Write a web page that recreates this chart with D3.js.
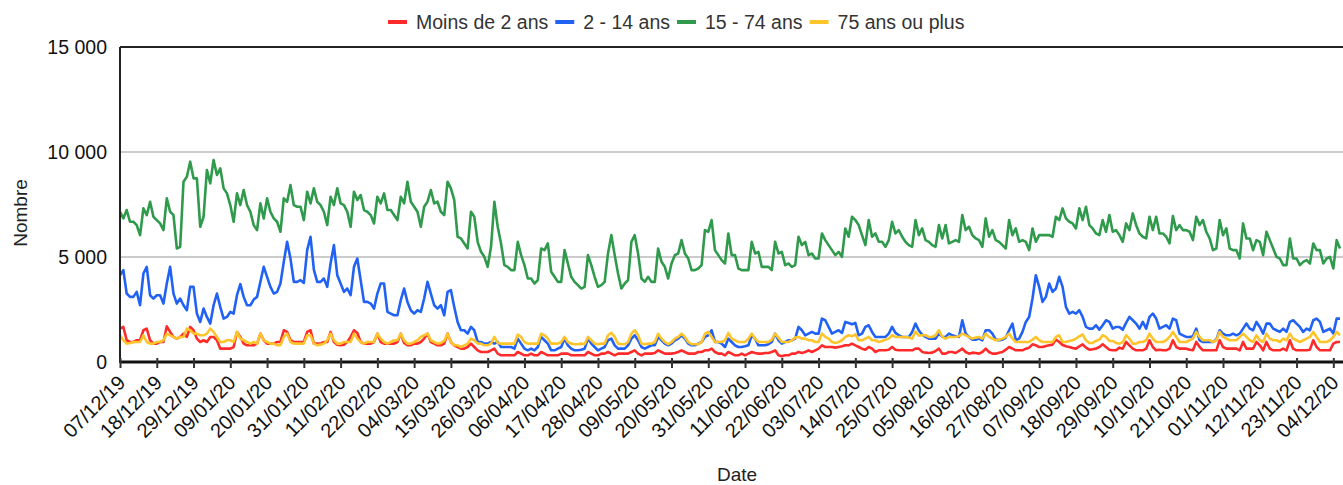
<!DOCTYPE html>
<html>
<head>
<meta charset="utf-8">
<script src="https://cdn.jsdelivr.net/npm/d3@7/dist/d3.min.js"></script>
<style>
  body { margin: 0; background: #fff; }
  svg { display: block; font-family: Arial, "Liberation Sans", sans-serif; }
</style>
</head>
<body>
<svg id="chart" width="1343" height="485"></svg>
<script>
// first day of the series, one value per day after that
const startDate = new Date(2019, 11, 7);

const seriesNames = ["Moins de 2 ans", "2 - 14 ans", "15 - 74 ans", "75 ans ou plus"];
const seriesColors = ["#ff2b2b", "#2162f5", "#2f9a4c", "#fdc42c"];

const moins2 = [
  1590,1670,1034,954,954,1034,1034,1511,1590,1034,
  875,875,954,954,1700,1431,1193,1113,1193,1352,
  1193,1670,1511,1113,954,1034,954,1193,1193,1034,
  636,636,636,636,716,1431,1193,875,795,795,
  795,875,1352,1034,875,875,875,954,954,1511,
  1431,1034,954,954,954,954,1431,1511,875,875,
  875,954,954,1431,954,827,795,827,954,1193,
  1511,1384,954,875,875,875,954,1352,954,875,
  875,875,875,954,1352,906,795,795,875,875,
  954,1113,1352,954,875,795,795,875,1352,954,
  795,716,636,636,716,875,716,557,477,477,
  477,557,636,398,318,318,318,318,318,477,
  398,318,318,398,318,318,477,398,318,318,
  318,318,398,398,398,318,318,318,318,318,
  477,398,318,318,398,398,477,398,318,398,
  398,398,398,477,557,398,318,398,398,398,
  429,557,477,398,398,398,429,477,557,477,
  398,398,398,477,477,557,557,636,477,398,
  398,318,477,398,318,318,398,318,398,477,
  429,398,398,429,429,477,557,318,270,318,
  318,398,398,477,429,477,557,477,557,636,
  795,716,716,716,684,716,747,795,795,875,
  795,716,636,588,716,636,477,557,557,557,
  588,716,588,557,557,557,557,557,636,636,
  480,445,429,445,525,636,398,398,477,477,
  429,525,636,477,398,445,429,398,477,636,
  477,398,398,445,477,588,716,636,557,557,
  557,636,684,843,795,716,716,763,795,827,
  1065,954,811,747,716,668,636,747,843,684,
  588,604,636,716,843,716,588,557,557,684,
  636,954,795,636,557,557,557,636,1034,716,
  557,588,557,557,636,1034,716,636,636,636,
  588,557,954,716,557,557,557,557,557,1034,
  716,636,636,636,636,557,954,636,636,636,
  954,795,557,954,636,557,557,557,636,557,
  1034,636,557,557,557,557,588,1034,716,557,
  557,557,557,875,954,954
];

const de2a14 = [
  4134,4373,3260,3101,3101,3339,2703,4214,4532,3180,
  3021,3180,3180,2783,3737,4532,3260,2783,3021,2703,
  2465,3578,3578,2306,1908,2544,2147,1829,2703,3260,
  2624,2067,2147,2385,2306,3180,3705,3101,2703,2703,
  2973,3101,3816,4532,4055,3578,3260,3339,3737,4770,
  5724,4929,3816,3816,3896,3768,5327,5963,4400,3816,
  3816,3975,3578,4691,5565,4134,3737,3339,3498,3180,
  4532,4929,3896,2862,2862,2783,2544,3260,3737,3737,
  2385,2306,2226,2226,2942,3498,2862,2465,2306,2465,
  2385,3021,3816,3260,2703,2544,2703,2226,3339,3419,
  2624,1908,1511,1511,1352,1670,1511,954,954,875,
  875,954,875,954,716,716,716,716,636,1113,
  875,636,557,636,557,716,1193,1034,875,557,
  557,636,716,1113,795,636,557,557,588,636,
  1113,875,716,557,636,716,1034,1113,795,636,
  636,636,795,1113,1272,1034,716,636,716,795,
  795,1193,1034,875,795,875,1034,1113,1272,1113,
  875,795,795,875,954,1193,1272,1511,954,954,
  875,716,1113,954,795,716,716,747,795,1272,
  1113,795,795,795,843,954,1352,1034,875,954,
  1034,1034,1113,1670,1511,1272,1352,1431,1352,1352,
  2067,1988,1670,1352,1431,1511,1384,1908,1861,1797,
  1861,1272,1352,1670,1749,1431,1193,1193,1193,1193,
  1352,1670,1384,1272,1193,1193,1193,1431,1829,1500,
  1300,1193,1113,1113,1113,1352,1193,1193,1352,1272,
  1225,1193,1988,1352,1193,1065,1065,1113,1034,1511,
  1511,1352,1065,1034,1065,1161,1511,1829,1034,1113,
  1431,1908,2147,3021,4134,3578,2862,3101,3737,3339,
  3498,4055,3578,2624,2306,2385,2306,2465,2147,1670,
  1590,1590,1749,1542,1749,1988,1908,1590,1670,1670,
  1542,1861,2147,1988,1829,1590,1908,1590,2147,2306,
  2067,1590,1670,1749,1590,2067,1988,1352,1272,1193,
  1193,1225,1590,1034,954,954,954,954,1065,1511,
  1352,1272,1272,1352,1272,1352,1590,1829,1590,1511,
  1908,1670,1352,1829,1829,1590,1511,1431,1590,1431,
  1908,1988,1829,1670,1431,1590,1511,1988,2067,1908,
  1431,1511,1590,1352,2067,2067
];

const de15a74 = [
  7155,6837,7235,6678,6678,6519,6042,7314,6996,7632,
  6917,6758,6599,6281,7791,7155,6996,5406,5486,8586,
  8825,9540,8745,8745,6440,6917,9143,8507,9620,8904,
  9222,8268,8030,7473,6678,8030,7473,8189,7473,7155,
  6519,6281,7553,6837,7791,7155,6837,6678,6201,7791,
  7632,8427,7473,7394,7394,6758,8110,7553,8268,7632,
  7473,7155,6519,7871,7473,8268,7553,7473,7155,6440,
  8110,7712,7950,7235,7155,6996,6599,7871,7553,8030,
  7235,7235,6996,6758,7871,7553,8586,7632,7394,7155,
  6440,7394,7632,8189,7553,7632,7155,6996,8586,8268,
  7712,5963,5883,5645,5406,7155,6917,5724,5247,5009,
  4532,5486,7632,6440,5645,4611,4532,4373,4373,5724,
  5088,4611,3975,3975,3737,3896,5406,5327,5645,4293,
  4055,3816,3816,5327,4691,4055,3816,3657,3498,3578,
  5088,4611,4055,3578,3657,3816,5168,6042,5088,4214,
  3498,3737,3896,5724,6042,5168,3975,3816,4055,3816,
  3816,5406,4770,4532,3975,4691,5088,5168,5804,5168,
  4929,4373,4373,4452,4611,6281,6201,6758,5327,5088,
  4850,4691,6122,5088,5088,4452,4373,4373,4373,5724,
  5168,5247,4532,4532,4532,4373,5724,5168,5247,4611,
  4691,4532,4611,5963,5565,5724,5088,5168,4929,4929,
  6122,5804,5565,5327,5088,5247,5009,6360,5963,6917,
  6758,6519,6042,5565,6758,5963,6122,5724,5724,5486,
  5804,6678,6122,6281,5963,5724,5565,5486,6758,6042,
  6360,5804,5724,5565,5486,6519,5883,6519,5645,5724,
  5804,5724,6996,6281,6440,6042,5883,5804,5486,6837,
  5963,6281,5804,5724,5565,5406,6758,6042,6360,5724,
  5804,5724,5327,6360,5724,6042,6042,6042,6042,5963,
  6917,6758,7314,6837,6678,6599,6360,7314,6758,7394,
  6519,6360,6122,6042,6758,6201,6996,6201,6281,6042,
  5724,6599,6281,7075,6519,6122,5963,5883,6917,6281,
  6917,6122,6122,5963,5645,6948,6281,6519,6281,6281,
  6201,5804,6917,6519,6758,6201,5883,5327,5406,6758,
  6042,6360,5406,5327,5327,4929,6599,5883,5883,5327,
  5804,5724,5088,6201,5804,5406,5009,4929,4611,4611,
  5883,4929,4929,4611,4770,4850,4691,5645,5327,5327,
  4691,4929,5009,4452,5804,5406
];

const plus75 = [
  1272,1034,875,906,954,954,954,1272,954,875,
  875,954,954,1034,1352,1272,1193,1113,1193,1193,
  1590,1511,1352,1352,1272,1272,1352,1590,1431,1193,
  954,954,1034,1034,954,1431,1113,1034,954,875,
  954,875,1352,1034,954,875,875,795,795,1193,
  1352,954,875,875,875,875,1272,1272,875,795,
  827,875,1034,1352,1034,875,875,954,954,954,
  1352,1113,954,875,954,954,954,1352,1113,954,
  875,954,1034,1034,1352,1034,875,875,954,1034,
  1193,1272,1352,1034,954,875,906,1002,1352,954,
  795,795,716,795,875,1113,1034,875,875,795,
  795,875,1193,906,875,875,875,875,875,1300,
  1193,954,875,875,875,875,1352,1272,1113,875,
  875,875,954,1193,954,875,843,843,875,843,
  1193,1034,875,843,875,875,1272,1384,1193,875,
  843,843,954,1352,1511,1272,875,843,875,875,
  954,1352,1113,954,843,954,1113,1193,1352,1193,
  954,843,843,843,954,1352,1431,1193,954,954,
  954,1034,1384,1113,1034,954,954,954,1113,1352,
  1113,954,954,954,954,1065,1352,1161,954,954,
  954,1034,1161,1193,1113,1113,1034,1034,954,954,
  1352,1193,1113,954,906,954,1034,1193,1272,1225,
  1320,1034,1034,1113,1193,1034,1034,954,1002,1065,
  1113,1272,1193,1193,1193,1193,1161,1113,1450,1250,
  1272,1272,1193,1193,1272,1511,1193,1113,1193,1193,
  1193,1225,1352,1272,1193,1113,1161,1193,1113,1352,
  1193,1113,1034,1065,1113,1193,1352,1113,954,954,
  954,954,954,1065,1193,1034,954,954,954,954,
  1193,1272,954,954,1002,1034,1113,1225,1320,1034,
  906,906,1002,1065,1272,1193,1002,1002,906,875,
  938,1272,1113,875,875,954,954,1034,1352,1113,
  954,954,954,1034,1193,1431,1193,954,954,954,
  1034,1113,1431,1193,1034,1034,1034,954,1034,1431,
  1193,1113,1034,1034,1034,1193,1352,1193,1034,954,
  1272,1034,954,1352,1113,1034,1034,954,1113,1034,
  1352,1113,1034,954,1034,1113,1193,1431,1193,954,
  954,954,1034,1193,1431,1272
];

const yTicks = [0, 5000, 10000, 15000];
const xTickEvery = 11; // a label every 11 days

const allSeries = [moins2, de2a14, de15a74, plus75];
const dates = moins2.map((v, i) => d3.timeDay.offset(startDate, i));

const svg = d3.select('#chart');
const plotLeft = 120, plotRight = 1340, plotTop = 47, plotBottom = 362;

const x = d3.scaleTime()
  .domain([dates[0], dates[dates.length - 1]])
  .range([plotLeft, plotRight]);

const y = d3.scaleLinear()
  .domain([0, 15000])
  .range([plotBottom, plotTop]);

const fr = d3.formatLocale({ decimal: ",", thousands: " ", grouping: [3], currency: ["", " €"] });
const fmtY = fr.format(",d");
const fmtDate = d3.timeFormat("%d/%m/%y");

// grid lines
svg.append('g')
  .selectAll('line')
  .data(yTicks.filter(t => t > 0 && t < 15000))
  .join('line')
  .attr('x1', plotLeft).attr('x2', plotRight + 3)
  .attr('y1', d => y(d)).attr('y2', d => y(d))
  .attr('stroke', '#cccccc')
  .attr('stroke-width', 2);

// y axis labels
svg.append('g')
  .selectAll('text')
  .data(yTicks)
  .join('text')
  .attr('x', plotLeft - 13)
  .attr('y', d => y(d))
  .attr('dy', '0.36em')
  .attr('text-anchor', 'end')
  .attr('font-size', 19.5)
  .attr('fill', '#111')
  .text(d => fmtY(d));

// lines, in legend order (yellow ends up on top)
const line = d3.line()
  .x((d, i) => x(dates[i]))
  .y(d => y(d));

svg.append('g')
  .selectAll('path')
  .data(allSeries)
  .join('path')
  .attr('d', d => line(d))
  .attr('fill', 'none')
  .attr('stroke', (d, i) => seriesColors[i])
  .attr('stroke-width', 2.6)
  .attr('stroke-linejoin', 'round');

// frame: left and top lines
svg.append('line')
  .attr('x1', plotLeft).attr('x2', plotLeft)
  .attr('y1', plotTop).attr('y2', plotBottom + 1)
  .attr('stroke', '#222').attr('stroke-width', 2);
svg.append('line')
  .attr('x1', plotLeft).attr('x2', plotRight + 3)
  .attr('y1', plotTop).attr('y2', plotTop)
  .attr('stroke', '#222').attr('stroke-width', 2);

const tickDates = dates.filter((d, i) => i % xTickEvery === 0);

const xAxis = d3.axisBottom(x)
  .tickValues(tickDates)
  .tickFormat(fmtDate)
  .tickSizeInner(6)
  .tickSizeOuter(0)
  .tickPadding(6);

const gx = svg.append('g')
  .attr('transform', `translate(0,${plotBottom})`)
  .call(xAxis);

gx.select('.domain')
  .attr('d', `M${plotLeft},0H${plotRight + 3}`)
  .attr('stroke', '#111')
  .attr('stroke-width', 3);

gx.selectAll('.tick line')
  .attr('y1', -4)
  .attr('y2', 6)
  .attr('stroke', '#333')
  .attr('stroke-width', 2);

// rotated date labels; the last one sits right at the window edge
gx.selectAll('.tick text')
  .attr('font-size', 20)
  .attr('font-family', 'Arial, "Liberation Sans", sans-serif')
  .attr('fill', '#111')
  .attr('text-anchor', 'end')
  .attr('dy', 0)
  .attr('transform', 'translate(6,22) rotate(-45)')
  .attr('y', 0)
  .attr('x', 0);

// axis titles
svg.append('text')
  .attr('x', (plotLeft + plotRight) / 2 + 7)
  .attr('y', 481)
  .attr('text-anchor', 'middle')
  .attr('font-size', 19)
  .attr('fill', '#222')
  .text('Date');

svg.append('text')
  .attr('transform', 'translate(27,213) rotate(-90)')
  .attr('text-anchor', 'middle')
  .attr('font-size', 19)
  .attr('fill', '#222')
  .text('Nombre');

// legend
const legend = svg.append('g').attr('transform', 'translate(388,22)');
let lx = 0;
seriesNames.forEach((name, i) => {
  const item = legend.append('g').attr('transform', `translate(${lx},0)`);
  item.append('line')
    .attr('x1', 0).attr('x2', 19)
    .attr('y1', 0).attr('y2', 0)
    .attr('stroke', seriesColors[i])
    .attr('stroke-width', 4);
  const t = item.append('text')
    .attr('x', 28)
    .attr('y', 7)
    .attr('font-size', 19.5)
    .attr('fill', '#333')
    .text(name);
  lx += 28 + t.node().getComputedTextLength() + 7;
});
</script>
</body>
</html>
